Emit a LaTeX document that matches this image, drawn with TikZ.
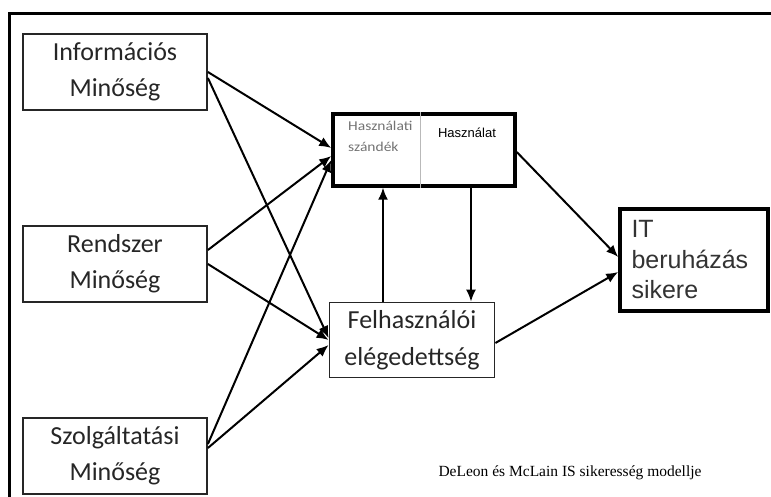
\documentclass[tikz,border=0pt]{standalone}
\usepackage{fontspec}
\setmainfont{Liberation Serif}
\newfontfamily\calibri{Carlito}
\newfontfamily\calibriwide[FakeStretch=1.15]{Carlito}
\newfontfamily\arial{Liberation Sans}
\usetikzlibrary{arrows.meta}

\begin{document}
\begin{tikzpicture}[x=1pt,y=-1pt,node distance=192pt]
\tikzstyle{box}=[rectangle, draw=black!85, line width=1.8pt, minimum width=184pt, minimum height=76pt, inner sep=0pt, align=center, text=black!85, font=\calibri\fontsize{26}{36}\selectfont]
\tikzstyle{boxb}=[rectangle, draw=black, line width=3.5pt, inner sep=0pt]
\tikzstyle{arr}=[line width=2pt, -{Latex[length=12pt,width=10pt]}]
\useasboundingbox (0,0) rectangle (771,497);
\draw[line width=3pt] (9,497) -- (9,14) -- (771,14);
\node (info) [box] at (115,72) {Információs\\Minőség};
\node (rend) [box, below of=info] {Rendszer\\Minőség};
\node (szolg) [box, below of=rend] {Szolgáltatási\\Minőség};
\node (haszn) [boxb, minimum width=182pt, minimum height=72pt] at (424,150) {};
\draw[gray!55, line width=1.2pt] ([xshift=89.5pt]haszn.north west) -- ([xshift=89.5pt]haszn.south west);
\node (szand) [anchor=north west, align=left, inner sep=0pt, text=gray!90!black, font=\calibriwide\fontsize{13.5}{21}\selectfont] at (348,121) {Használati\\szándék};
\node (haszt) [inner sep=0pt, font=\arial\fontsize{13}{15}\selectfont] at (467,133) {Használat};
\node (fel) [box, minimum width=165pt, minimum height=75pt, font=\calibri\fontsize{26}{37}\selectfont] at (412,340) {Felhasználói\\elégedettség};
\node (it) [boxb, minimum width=148pt, minimum height=102pt, text width=125pt, align=left, text=black!80, font=\arial\fontsize{25}{30.5}\selectfont] at (694,260) {IT\\beruházás\\sikere};
\node (cap) [inner sep=0pt, font=\fontsize{15.5}{18}\selectfont] at (570,473) {DeLeon és McLain IS sikeresség modellje};
\draw[arr] (info.east) -- ([yshift=2pt]haszn.west);
\draw[arr] ([yshift=-6pt]info.east) -- ([yshift=2pt]fel.west);
\draw[arr] ([yshift=14pt]rend.east) -- ([yshift=-6pt]haszn.west);
\draw[arr] (rend.east) -- (fel.west);
\draw[arr] ([yshift=12pt]szolg.east) -- ([yshift=-10pt]haszn.west);
\draw[arr] ([yshift=8pt]szolg.east) -- ([yshift=-5pt]fel.west);
\draw[arr] ([yshift=-2pt]haszn.east) -- ([yshift=3pt]it.west);
\draw[arr] ([yshift=-3pt]fel.east) -- ([yshift=-12pt]it.west);
\coordinate (upfoot) at ([xshift=-29pt]fel.north);
\coordinate (downtop) at ([xshift=47pt]haszn.south);
\draw[arr, line width=1.7pt] (upfoot) -- (upfoot |- haszn.south);
\draw[arr, line width=1.7pt] (downtop) -- (downtop |- fel.north);
\end{tikzpicture}
\end{document}
